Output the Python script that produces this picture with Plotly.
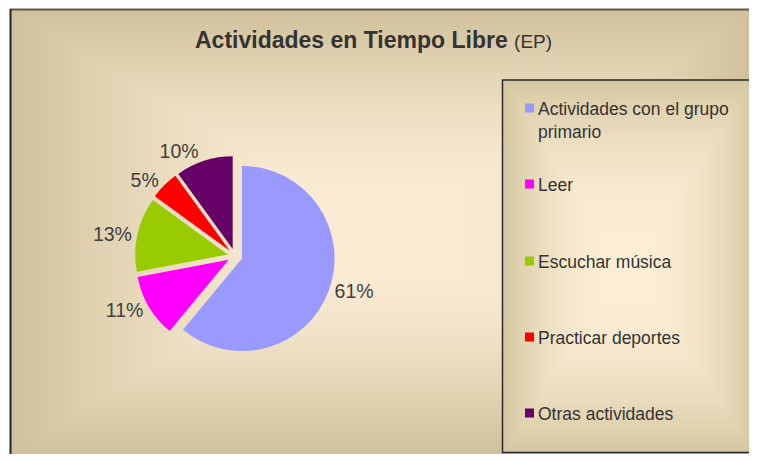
import base64, struct, zlib
import numpy as np
import plotly.graph_objects as go

# ---- data ----
categories = ["Actividades con el grupo primario", "Leer", "Escuchar música",
              "Practicar deportes", "Otras actividades"]
values = [61, 11, 13, 5, 10]
colors = ["#9999FF", "#FF00FF", "#99CC00", "#FF0000", "#660066"]
legend_labels = ["Actividades con el grupo<br>primario", "Leer", "Escuchar música",
                 "Practicar deportes", "Otras actividades"]

OFF = 8                          # browser body margin
W, H = 757 - OFF, 462 - 2 * OFF  # figure size (avoid scrollbars)


def px(x):
    return (x - OFF) / W


def py(y):
    return 1 - (y - OFF) / H


def gradient_png(w, h, inner, outer, power=1.6):
    u = np.abs(np.linspace(-1, 1, w))[None, :]
    v = np.abs(np.linspace(-1, 1, h))[:, None]
    d = np.maximum(u, v) ** power
    inner = np.array(inner, float)
    outer = np.array(outer, float)
    img = inner[None, None, :] + (outer - inner)[None, None, :] * d[:, :, None]
    img = np.clip(img, 0, 255).astype(np.uint8)
    raw = b"".join(b"\x00" + img[r].tobytes() for r in range(h))

    def chunk(t, data):
        c = struct.pack(">I", len(data)) + t + data
        return c + struct.pack(">I", zlib.crc32(t + data) & 0xFFFFFFFF)

    png = b"\x89PNG\r\n\x1a\n" + chunk(b"IHDR", struct.pack(">IIBBBBB", w, h, 8, 2, 0, 0, 0)) \
        + chunk(b"IDAT", zlib.compress(raw, 9)) + chunk(b"IEND", b"")
    return "data:image/png;base64," + base64.b64encode(png).decode()


bg_src = gradient_png(747, 453, (252, 238, 214), (208, 192, 155), 1.8)
lg_src = gradient_png(252, 380, (253, 239, 214), (214, 199, 162), 2.2)

BOTTOM = OFF + H  # last visible figure pixel row

fig = go.Figure()
fig.add_trace(go.Pie(
    labels=categories, values=values, sort=False, direction="clockwise", rotation=0,
    marker=dict(colors=colors, line=dict(width=0)),
    pull=[0.08] * len(values),
    textinfo="percent", texttemplate="%{percent:.0%}", textposition="outside",
    outsidetextfont=dict(size=19.5, color="#404040", family="Liberation Sans, Arial"),
    showlegend=False, hoverinfo="label+percent",
    domain=dict(x=[px(80), px(390)], y=[py(356), py(156)]),
))

shapes = []
annotations = []
images = [
    dict(source=bg_src, xref="paper", yref="paper", x=px(10), y=py(9),
         sizex=px(757) - px(10), sizey=py(9) - py(BOTTOM), xanchor="left", yanchor="top",
         sizing="stretch", layer="below"),
    dict(source=lg_src, xref="paper", yref="paper", x=px(502), y=py(80),
         sizex=px(755) - px(502), sizey=py(80) - py(BOTTOM - 1), xanchor="left", yanchor="top",
         sizing="stretch", layer="below"),
]
# frame lines
shapes.append(dict(type="line", xref="paper", yref="paper", x0=px(10), x1=px(757), y0=py(9.5), y1=py(9.5),
                   line=dict(color="#5F5845", width=2)))
shapes.append(dict(type="line", xref="paper", yref="paper", x0=px(10.5), x1=px(10.5), y0=0, y1=py(9),
                   line=dict(color="#222222", width=2)))
# legend box
shapes.append(dict(type="rect", xref="paper", yref="paper", x0=px(502.5), x1=px(755.5),
                   y0=py(BOTTOM - 1.5), y1=py(80), line=dict(color="#2a2a2a", width=1.5)))

# legend entries
text_y = [108, 184, 261, 337, 413]
for i, (lab, col) in enumerate(zip(legend_labels, colors)):
    yc = text_y[i]
    shapes.append(dict(type="rect", xref="paper", yref="paper",
                       x0=px(525), x1=px(534), y0=py(yc + 4.5), y1=py(yc - 4.5),
                       line=dict(width=0), fillcolor=col))
    annotations.append(dict(text=lab, xref="paper", yref="paper", x=px(536), y=py(yc - 11),
                            xanchor="left", yanchor="top", showarrow=False, align="left",
                            font=dict(size=17.5, color="#333333", family="Liberation Sans, Arial")))

annotations.append(dict(
    text="<b>Actividades en Tiempo Libre</b> <span style='font-size:19px'>(EP)</span>",
    xref="paper", yref="paper", x=px(373), y=py(40), xanchor="center", yanchor="middle",
    showarrow=False, font=dict(size=23, color="#333333", family="Liberation Sans, Arial")))

fig.update_layout(
    width=W, height=H, margin=dict(l=0, r=0, t=0, b=0, pad=0, autoexpand=False),
    paper_bgcolor="white", plot_bgcolor="white",
    shapes=shapes, annotations=annotations, images=images,
)
fig.write_html("out.html")
